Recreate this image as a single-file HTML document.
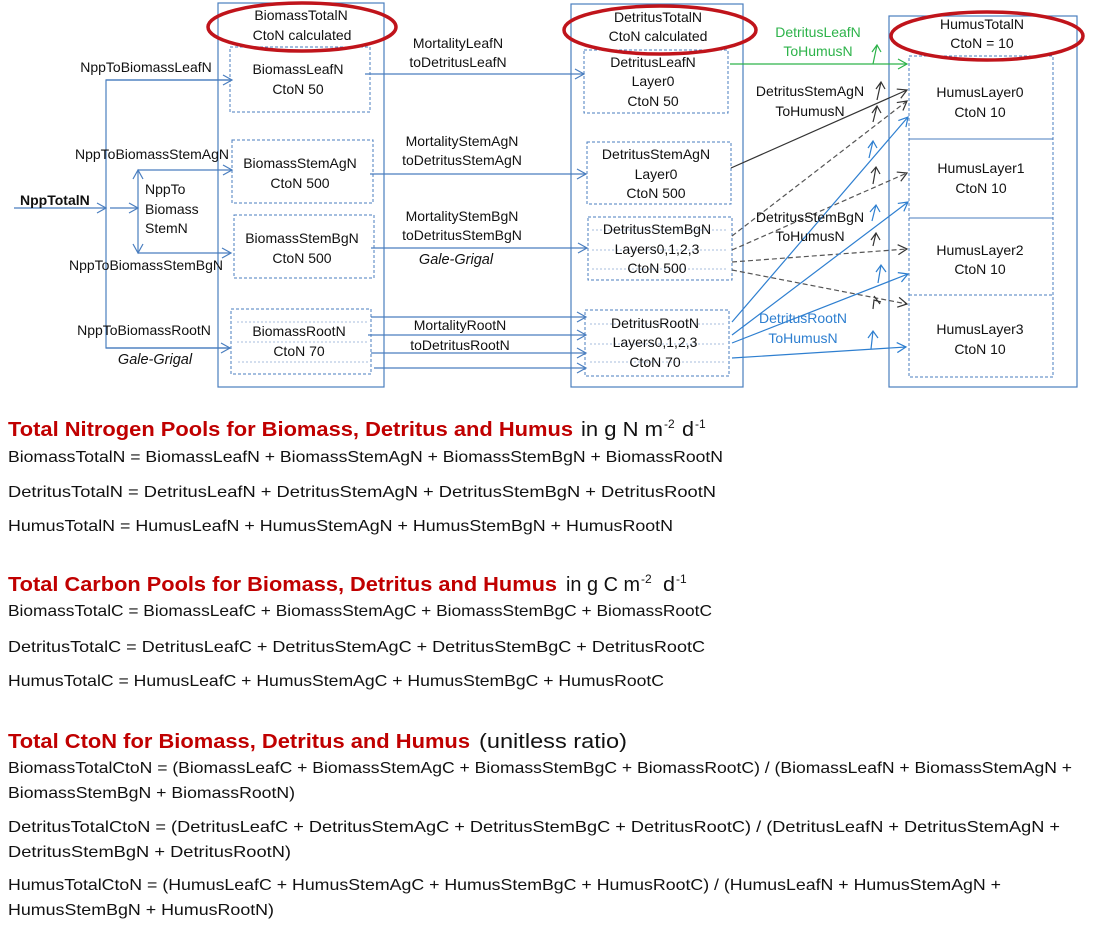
<!DOCTYPE html>
<html><head><meta charset="utf-8"><style>
html,body{margin:0;padding:0;background:#fff;}
svg{display:block;font-family:"Liberation Sans",sans-serif;}
</style></head><body>
<svg width="1104" height="937" viewBox="0 0 1104 937" xmlns="http://www.w3.org/2000/svg">
<defs>
<marker id="ab" markerWidth="12" markerHeight="12" refX="10" refY="6" orient="auto" markerUnits="userSpaceOnUse"><path d="M1,1 L10,6 L1,11" fill="none" stroke="#4a7ebf" stroke-width="1.2"/></marker>
<marker id="ag" markerWidth="12" markerHeight="12" refX="10" refY="6" orient="auto" markerUnits="userSpaceOnUse"><path d="M1,1 L10,6 L1,11" fill="none" stroke="#2db34a" stroke-width="1.2"/></marker>
<marker id="ak" markerWidth="12" markerHeight="12" refX="10" refY="6" orient="auto" markerUnits="userSpaceOnUse"><path d="M1,1 L10,6 L1,11" fill="none" stroke="#333" stroke-width="1.2"/></marker>
<marker id="al" markerWidth="12" markerHeight="12" refX="10" refY="6" orient="auto" markerUnits="userSpaceOnUse"><path d="M1,1 L10,6 L1,11" fill="none" stroke="#2e7fd0" stroke-width="1.2"/></marker>
</defs>
<g fill="none" stroke="#4a7ebf" stroke-width="1.2">
<rect x="218" y="3" width="166" height="384"/>
<rect x="571" y="4" width="172" height="383"/>
<rect x="889" y="16" width="188" height="371"/>
</g>
<g fill="none" stroke="#4a7ebf" stroke-width="1" stroke-dasharray="3,2">
<rect x="230" y="47" width="140" height="65"/>
<rect x="232" y="140" width="141" height="63"/>
<rect x="234" y="215" width="140" height="63"/>
<rect x="231" y="309" width="140" height="65"/>
<rect x="584" y="50" width="144" height="63"/>
<rect x="587" y="142" width="144" height="62"/>
<rect x="588" y="217" width="144" height="63"/>
<rect x="585" y="310" width="144" height="66"/>
<rect x="909" y="56" width="144" height="321"/>
</g>
<g stroke="#4a7ebf" stroke-width="1">
<line x1="909" y1="139" x2="1053" y2="139"/><line x1="909" y1="218" x2="1053" y2="218"/><line x1="909" y1="295" x2="1053" y2="295" stroke-dasharray="3,2"/>
</g>
<g stroke="#8aa8d4" stroke-width="0.8" stroke-dasharray="2,2">
<line x1="237" y1="322" x2="367" y2="322"/><line x1="237" y1="342" x2="367" y2="342"/><line x1="238" y1="362" x2="368" y2="362"/>
<line x1="592" y1="230" x2="728" y2="230"/><line x1="592" y1="250" x2="728" y2="250"/><line x1="592" y1="269" x2="728" y2="269"/>
<line x1="590" y1="324" x2="725" y2="324"/><line x1="590" y1="344" x2="725" y2="344"/><line x1="590" y1="362" x2="725" y2="362"/>
</g>
<g fill="none" stroke="#c0141b" stroke-width="3.5">
<ellipse cx="302" cy="27" rx="94" ry="24"/>
<ellipse cx="660" cy="30" rx="96" ry="24"/>
<ellipse cx="987" cy="36" rx="96" ry="24"/>
</g>
<g fill="none" stroke="#4a7ebf" stroke-width="1.2">
<line x1="14" y1="208" x2="106" y2="208" marker-end="url(#ab)"/>
<polyline points="231,80 106,80 106,348 230,348" />
<line x1="106" y1="80" x2="232" y2="80" marker-end="url(#ab)"/>
<line x1="106" y1="348" x2="230" y2="348" marker-end="url(#ab)"/>
<line x1="110" y1="208" x2="138" y2="208" marker-end="url(#ab)"/>
<line x1="138" y1="208" x2="138" y2="170" marker-end="url(#ab)"/>
<line x1="138" y1="208" x2="138" y2="253" marker-end="url(#ab)"/>
<line x1="138" y1="170" x2="232" y2="170" marker-end="url(#ab)"/>
<line x1="138" y1="253" x2="231" y2="253" marker-end="url(#ab)"/>
<line x1="365" y1="74" x2="584" y2="74" marker-end="url(#ab)"/>
<line x1="370" y1="174" x2="586" y2="174" marker-end="url(#ab)"/>
<line x1="371" y1="248" x2="587" y2="248" marker-end="url(#ab)"/>
<line x1="371" y1="317" x2="586" y2="317" marker-end="url(#ab)"/>
<line x1="368" y1="335" x2="586" y2="335" marker-end="url(#ab)"/>
<line x1="371" y1="353" x2="586" y2="353" marker-end="url(#ab)"/>
<line x1="374" y1="368" x2="586" y2="368" marker-end="url(#ab)"/>
</g>
<line x1="730" y1="64" x2="907" y2="64" stroke="#2db34a" stroke-width="1.2" marker-end="url(#ag)"/>
<line x1="731" y1="168" x2="907" y2="90" stroke="#333" stroke-width="1.2" marker-end="url(#ak)"/>
<g stroke="#555" stroke-width="1.2" stroke-dasharray="5,3" fill="none">
<line x1="732" y1="236" x2="907" y2="101" marker-end="url(#ak)"/>
<line x1="732" y1="250" x2="907" y2="173" marker-end="url(#ak)"/>
<line x1="732" y1="262" x2="907" y2="249" marker-end="url(#ak)"/>
<line x1="732" y1="270" x2="907" y2="304" marker-end="url(#ak)"/>
</g>
<g stroke="#2e7fd0" stroke-width="1.2" fill="none">
<line x1="732" y1="322" x2="908" y2="117" marker-end="url(#al)"/>
<line x1="732" y1="335" x2="908" y2="202" marker-end="url(#al)"/>
<line x1="732" y1="343" x2="908" y2="274" marker-end="url(#al)"/>
<line x1="732" y1="358" x2="906" y2="347" marker-end="url(#al)"/>
</g>
<g fill="none" stroke-width="1.2">
<path d="M873,64 L877,45 M872,52 L877,45 L881,52" stroke="#2db34a"/>
<path d="M877,100 L881,82 M876,89 L881,82 L885,89 M873,122 L877,106 M872,113 L877,106 L881,113" stroke="#333"/>
<path d="M873,184 L876,167 M871,173 L876,167 L880,174 M873,246 L876,233 M871,240 L876,233 L880,240 M874,296 L880,304 M873,309 L874,300 L881,302" stroke="#333"/>
<path d="M869,158 L873,141 M868,148 L873,141 L877,148 M872,221 L876,205 M870,212 L876,205 L880,212 M878,283 L881,265 M876,272 L881,265 L886,272 M871,349 L873,331 M868,338 L873,331 L878,338" stroke="#2e7fd0"/>
</g>
<g font-size="14" fill="#111" text-anchor="middle">
<text x="20" y="205" text-anchor="start" font-weight="bold" font-size="14">NppTotalN</text>
<text x="146" y="72">NppToBiomassLeafN</text>
<text x="152" y="159">NppToBiomassStemAgN</text>
<text x="146" y="270">NppToBiomassStemBgN</text>
<text x="144" y="335">NppToBiomassRootN</text>
<text x="145" y="194" text-anchor="start">NppTo</text>
<text x="145" y="214" text-anchor="start">Biomass</text>
<text x="145" y="233" text-anchor="start">StemN</text>
<text x="155" y="364" font-style="italic" font-size="14.5">Gale-Grigal</text>
<text x="301" y="20">BiomassTotalN</text><text x="302" y="40">CtoN  calculated</text>
<text x="298" y="74">BiomassLeafN</text><text x="298" y="94">CtoN  50</text>
<text x="300" y="168">BiomassStemAgN</text><text x="300" y="188">CtoN  500</text>
<text x="302" y="243">BiomassStemBgN</text><text x="302" y="263">CtoN  500</text>
<text x="299" y="336">BiomassRootN</text><text x="299" y="356">CtoN  70</text>
<text x="458" y="48">MortalityLeafN</text><text x="458" y="67">toDetritusLeafN</text>
<text x="462" y="146">MortalityStemAgN</text><text x="462" y="165">toDetritusStemAgN</text>
<text x="462" y="221">MortalityStemBgN</text><text x="462" y="240">toDetritusStemBgN</text>
<text x="456" y="264" font-style="italic" font-size="14.5">Gale-Grigal</text>
<text x="460" y="330">MortalityRootN</text><text x="460" y="350">toDetritusRootN</text>
<text x="658" y="22">DetritusTotalN</text><text x="658" y="41">CtoN  calculated</text>
<text x="653" y="67">DetritusLeafN</text><text x="653" y="86">Layer0</text><text x="653" y="106">CtoN  50</text>
<text x="656" y="159">DetritusStemAgN</text><text x="656" y="179">Layer0</text><text x="656" y="198">CtoN  500</text>
<text x="657" y="234">DetritusStemBgN</text><text x="657" y="254">Layers0,1,2,3</text><text x="657" y="273">CtoN  500</text>
<text x="655" y="328">DetritusRootN</text><text x="655" y="347">Layers0,1,2,3</text><text x="655" y="367">CtoN  70</text>
<text x="818" y="37" fill="#2db34a">DetritusLeafN</text><text x="818" y="56" fill="#2db34a">ToHumusN</text>
<text x="810" y="96">DetritusStemAgN</text><text x="810" y="116">ToHumusN</text>
<text x="810" y="222">DetritusStemBgN</text><text x="810" y="241">ToHumusN</text>
<text x="803" y="323" fill="#2e7fd0">DetritusRootN</text><text x="803" y="343" fill="#2e7fd0">ToHumusN</text>
<text x="982" y="29">HumusTotalN</text><text x="982" y="48">CtoN  = 10</text>
<text x="980" y="97">HumusLayer0</text><text x="980" y="117">CtoN  10</text>
<text x="981" y="173">HumusLayer1</text><text x="981" y="193">CtoN 10</text>
<text x="980" y="255">HumusLayer2</text><text x="980" y="274">CtoN 10</text>
<text x="980" y="334">HumusLayer3</text><text x="980" y="354">CtoN 10</text>
</g>
<g fill="#c00000" font-weight="bold" font-size="20">
<text x="8" y="436" textLength="565" lengthAdjust="spacingAndGlyphs">Total  Nitrogen Pools for Biomass, Detritus and Humus</text>
<text x="8" y="591" textLength="549" lengthAdjust="spacingAndGlyphs">Total Carbon Pools for Biomass, Detritus and Humus</text>
<text x="8" y="748" textLength="462" lengthAdjust="spacingAndGlyphs">Total CtoN for Biomass, Detritus and Humus</text>
</g>
<g fill="#111" font-size="20">
<text x="581" y="436" textLength="82" lengthAdjust="spacingAndGlyphs">in g N m</text>
<text x="664" y="428" font-size="12">-2</text>
<text x="682" y="436" textLength="12" lengthAdjust="spacingAndGlyphs">d</text>
<text x="695" y="428" font-size="12">-1</text>
<text x="566" y="591" textLength="74" lengthAdjust="spacingAndGlyphs">in g C m</text>
<text x="641" y="583" font-size="12">-2</text>
<text x="663" y="591" textLength="12" lengthAdjust="spacingAndGlyphs">d</text>
<text x="676" y="583" font-size="12">-1</text>
<text x="479" y="748" textLength="148" lengthAdjust="spacingAndGlyphs">(unitless ratio)</text>
</g>
<g fill="#111" font-size="16">
<text x="8" y="462" textLength="715" lengthAdjust="spacingAndGlyphs">BiomassTotalN = BiomassLeafN + BiomassStemAgN + BiomassStemBgN + BiomassRootN</text>
<text x="8" y="497" textLength="708" lengthAdjust="spacingAndGlyphs">DetritusTotalN = DetritusLeafN + DetritusStemAgN + DetritusStemBgN + DetritusRootN</text>
<text x="8" y="531" textLength="665" lengthAdjust="spacingAndGlyphs">HumusTotalN = HumusLeafN + HumusStemAgN + HumusStemBgN + HumusRootN</text>
<text x="8" y="616" textLength="704" lengthAdjust="spacingAndGlyphs">BiomassTotalC = BiomassLeafC + BiomassStemAgC + BiomassStemBgC + BiomassRootC</text>
<text x="8" y="652" textLength="697" lengthAdjust="spacingAndGlyphs">DetritusTotalC = DetritusLeafC + DetritusStemAgC + DetritusStemBgC + DetritusRootC</text>
<text x="8" y="686" textLength="656" lengthAdjust="spacingAndGlyphs">HumusTotalC = HumusLeafC + HumusStemAgC + HumusStemBgC + HumusRootC</text>
<text x="8" y="773" textLength="1064" lengthAdjust="spacingAndGlyphs">BiomassTotalCtoN = (BiomassLeafC + BiomassStemAgC + BiomassStemBgC + BiomassRootC) / (BiomassLeafN + BiomassStemAgN +</text>
<text x="8" y="798" textLength="287" lengthAdjust="spacingAndGlyphs">BiomassStemBgN + BiomassRootN)</text>
<text x="8" y="832" textLength="1052" lengthAdjust="spacingAndGlyphs">DetritusTotalCtoN = (DetritusLeafC + DetritusStemAgC + DetritusStemBgC + DetritusRootC) / (DetritusLeafN + DetritusStemAgN +</text>
<text x="8" y="857" textLength="283" lengthAdjust="spacingAndGlyphs">DetritusStemBgN + DetritusRootN)</text>
<text x="8" y="890" textLength="993" lengthAdjust="spacingAndGlyphs">HumusTotalCtoN = (HumusLeafC + HumusStemAgC + HumusStemBgC + HumusRootC) / (HumusLeafN + HumusStemAgN +</text>
<text x="8" y="915" textLength="266" lengthAdjust="spacingAndGlyphs">HumusStemBgN + HumusRootN)</text>
</g>
</svg>
</body></html>
